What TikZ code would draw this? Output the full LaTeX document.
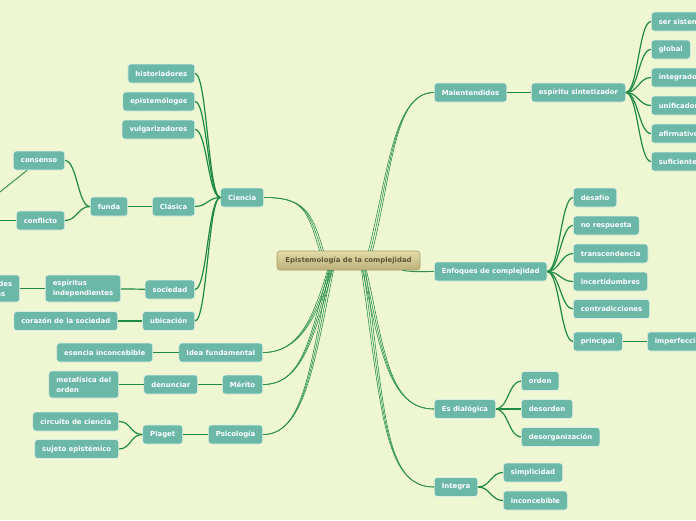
\documentclass[tikz,border=0pt]{standalone}
\usepackage{fontspec}
\setmainfont{DejaVu Sans}
\definecolor{bg}{HTML}{EEF7D1}
\definecolor{nodefill}{HTML}{6BB8A6}
\definecolor{nodeline}{HTML}{DCEFE6}
\definecolor{link}{HTML}{1F8A45}
\definecolor{mainlink}{HTML}{2E9150}
\definecolor{ctop}{HTML}{E2DAAA}
\definecolor{cbot}{HTML}{BDB178}
\definecolor{cline}{HTML}{A89E66}
\definecolor{ctext}{HTML}{5C5838}
\begin{document}
\begin{tikzpicture}[x=1pt,y=-1pt,
  topic/.style={draw=nodeline, line width=0.6pt, fill=nodefill, rounded corners=3pt,
    text=white, font=\fontsize{6.9}{10}\selectfont\bfseries, minimum height=19pt,
    inner xsep=7.5pt, inner ysep=2pt, align=left},
  lt/.style={topic, anchor=east},
  rt/.style={topic, anchor=west},
  two/.style={minimum height=27pt},
  central/.style={draw=cline, line width=0.6pt, top color=ctop, bottom color=cbot,
    rounded corners=3pt, text=ctext, font=\fontsize{6.9}{8.4}\selectfont\bfseries,
    minimum height=19pt, minimum width=143pt, inner xsep=6pt},
  lnk/.style={draw=link, line width=1.2pt},
  mlnk/.style={draw=mainlink, line width=0.6pt},
  lbr/.style={to path={.. controls +(-12,0) and +(12,0) .. (\tikztotarget)}},
  rbr/.style={to path={.. controls +(12,0) and +(-12,0) .. (\tikztotarget)}},
]
\fill[bg] (0,0) rectangle (696,520);
\useasboundingbox (0,0) rectangle (696,520);

% central
\node[central] (c) at (348.5,260.5) {Epistemología de la complejidad};

% left side
\node[lt] (ciencia) at (264,197.5) {Ciencia};
\node[lt] (hist) at (195,73.5) {historiadores};
\node[lt] (epis) at (195,101.5) {epistemólogos};
\node[lt] (vulg) at (195,129.5) {vulgarizadores};
\node[lt] (clasica) at (195,206.5) {Clásica};
\node[lt] (funda) at (128,206.5) {funda};
\node[lt] (consenso) at (65,160.5) {consenso};
\node[lt] (conflicto) at (65,220.5) {conflicto};
\node[lt] (sociedad) at (195,289.5) {sociedad};
\node[lt,two] (espiritus) at (121,288.5) {espíritus\\independientes};
\node[lt,two] (autor) at (20,288.5) {autoridades\\científicas};
\node[lt] (ubic) at (195,321) {ubicación};
\node[lt] (corazon) at (118,321) {corazón de la sociedad};
\node[lt] (idea) at (263,352.5) {Idea fundamental};
\node[lt] (esencia) at (153,352.5) {esencia inconcebible};
\node[lt] (merito) at (263,384.5) {Mérito};
\node[lt] (denunciar) at (198,384.5) {denunciar};
\node[lt,two] (metaf) at (119,384.5) {metafísica del\\orden};
\node[lt] (psico) at (263,434.5) {Psicología};
\node[lt] (piaget) at (183,434.5) {Piaget};
\node[lt] (circuito) at (119,421.5) {circuito de ciencia};
\node[lt] (sujeto) at (119,449) {sujeto epistémico};
\coordinate (offA) at (-40,224);
\coordinate (offB) at (-30,220.5);

% right side
\node[rt] (malent) at (434,92.5) {Malentendidos};
\node[rt] (espsint) at (531,92.5) {espíritu sintetizador};
\node[rt] (ser) at (651,21.5) {ser sistemático};
\node[rt] (global) at (651,49.5) {global};
\node[rt] (integrador) at (651,77.5) {integrador};
\node[rt] (unificador) at (651,105.5) {unificador};
\node[rt] (afirmativo) at (651,133.5) {afirmativo};
\node[rt] (suficiente) at (651,161.5) {suficiente};
\node[rt] (enfoques) at (434,271.5) {Enfoques de complejidad};
\node[rt] (desafio) at (573,197.5) {desafío};
\node[rt] (noresp) at (573,225.5) {no respuesta};
\node[rt] (transc) at (573,253.5) {transcendencia};
\node[rt] (incert) at (573,281.5) {incertidumbres};
\node[rt] (contrad) at (573,309) {contradicciones};
\node[rt] (principal) at (573,341.5) {principal};
\node[rt] (imperf) at (647,341.5) {imperfección};
\node[rt] (esdial) at (434,409) {Es dialógica};
\node[rt] (orden) at (521,381) {orden};
\node[rt] (desorden) at (521,409) {desorden};
\node[rt] (desorg) at (521,437) {desorganización};
\node[rt] (integra) at (434,487) {Integra};
\node[rt] (simpl) at (503,472.5) {simplicidad};
\node[rt] (inconc) at (503,500.5) {inconcebible};

% main branches (tapered look: several strokes merging)
\begin{scope}[mlnk]
\foreach \d in {-2,0,2} {
\draw ([xshift={\d-27}]c.north) .. controls +(-12,-40) and +(40,0) .. (ciencia.east);
\draw ([xshift={\d-19}]c.south) .. controls +(-15,50) and +(35,0) .. (idea.east);
\draw ([xshift={\d-18}]c.south) .. controls +(-18,65) and +(40,0) .. (merito.east);
\draw ([xshift={\d-17}]c.south) .. controls +(-20,100) and +(40,0) .. (psico.east);
\draw ([xshift={\d+22}]c.north) .. controls +(20,-80) and +(-40,0) .. (malent.west);
\draw ([xshift={\d+16}]c.south) .. controls +(18,80) and +(-45,0) .. (esdial.west);
\draw ([xshift={\d+15}]c.south) .. controls +(20,140) and +(-50,0) .. (integra.west);
}
\draw[line width=0.9pt] ([xshift=54pt]c.south) .. controls +(10,2) and +(-10,0) .. (enfoques.west);
\end{scope}

% sub branches
\begin{scope}[lnk]
\foreach \t in {hist,epis,vulg,clasica,sociedad,ubic}
  \draw (ciencia.west) to[lbr] (\t.east);
\draw (clasica) -- (funda);
\draw (funda.west) to[lbr] (consenso.east);
\draw (funda.west) to[lbr] (conflicto.east);
\draw (sociedad) -- (espiritus);
\draw (espiritus) -- (autor);
\draw (ubic) -- (corazon);
\draw (idea) -- (esencia);
\draw (merito) -- (denunciar);
\draw (denunciar) -- (metaf);
\draw (psico) -- (piaget);
\draw (piaget.west) to[lbr] (circuito.east);
\draw (piaget.west) to[lbr] (sujeto.east);
\draw (conflicto) -- (offB);
\draw (malent) -- (espsint);
\foreach \t in {ser,global,integrador,unificador,afirmativo,suficiente}
  \draw (espsint.east) to[rbr] (\t.west);
\foreach \t in {desafio,noresp,transc,incert,contrad,principal}
  \draw (enfoques.east) to[rbr] (\t.west);
\draw (principal) -- (imperf);
\foreach \t in {orden,desorden,desorg}
  \draw (esdial.east) to[rbr] (\t.west);
\foreach \t in {simpl,inconc}
  \draw (integra.east) to[rbr] (\t.west);
\end{scope}
\draw[mlnk, line width=0.9pt] ([xshift=14pt]consenso.south west) -- (offA);
\end{tikzpicture}
\end{document}
